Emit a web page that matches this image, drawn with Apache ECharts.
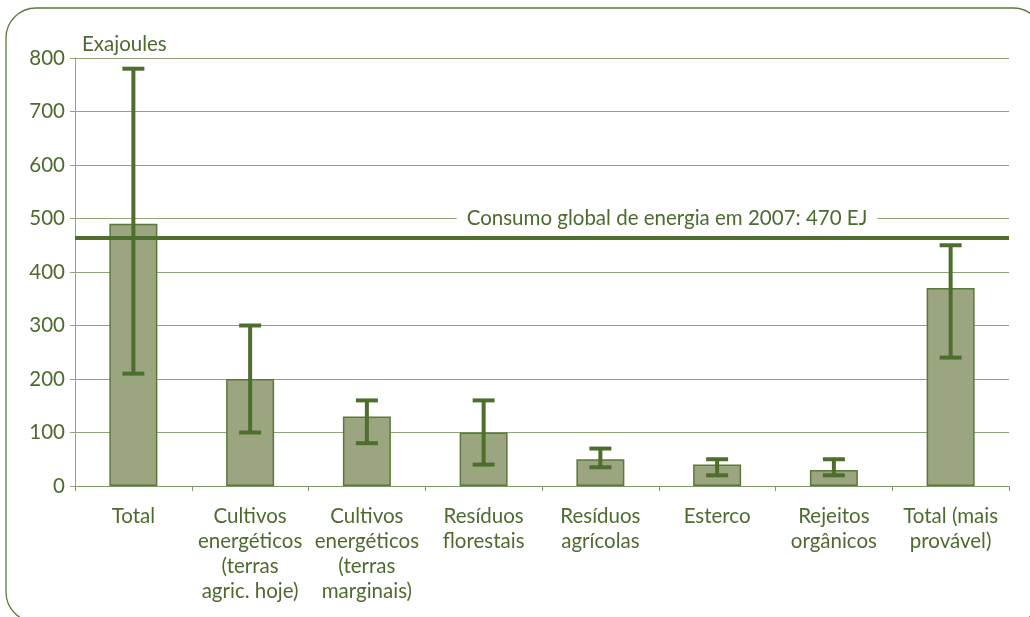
<!DOCTYPE html>
<html><head><meta charset="utf-8">
<script src="https://cdn.jsdelivr.net/npm/echarts@6/dist/echarts.min.js"></script>
<style>html,body{margin:0;padding:0;background:#fff}#c{width:1030px;height:617px}</style>
</head><body><div id="c"></div>
<script>
const categories = ['Total','Cultivos\nenergéticos\n(terras\nagric. hoje)','Cultivos\nenergéticos\n(terras\nmarginais)','Resíduos\nflorestais','Resíduos\nagrícolas','Esterco','Rejeitos\norgânicos','Total (mais\nprovável)'];
const values = [490, 200, 130, 100, 50, 40, 30, 370];
const errLow = [210, 100, 80, 40, 35, 20, 20, 240];
const errHigh = [780, 300, 160, 160, 70, 50, 50, 450];
const consumption = 464;
const consumptionLabelLevel = 500;
const consumptionLabel = 'Consumo global de energia em 2007: 470 EJ';
const yTicks = {min: 0, max: 800, interval: 100};
const yName = 'Exajoules';

const TXT = '#4d6b2e', FONT = 'Lato', FS = 20.5;
const chart = echarts.init(document.getElementById('c'));
const errData = categories.map((c, i) => [i, errLow[i], errHigh[i]]);
chart.setOption({
  animation: false,
  textStyle: {fontFamily: FONT},
  grid: {left: 75, right: 21, top: 58, bottom: 131},
  xAxis: {
    type: 'category', data: categories,
    axisLine: {lineStyle: {color: '#7f9866', width: 1}},
    axisTick: {show: true, length: 5, lineStyle: {color: '#7f9866'}},
    axisLabel: {color: TXT, fontSize: FS, lineHeight: 25, margin: 18, interval: 0, fontFamily: FONT}
  },
  yAxis: {
    type: 'value', min: yTicks.min, max: yTicks.max, interval: yTicks.interval,
    name: yName, nameLocation: 'end', nameGap: 3,
    nameTextStyle: {color: TXT, fontSize: FS, align: 'left', padding: [0, 0, 0, 7], fontFamily: FONT},
    axisLine: {show: true, lineStyle: {color: '#8fa47a', width: 1}},
    axisTick: {show: true, length: 5, lineStyle: {color: '#8fa47a'}},
    axisLabel: {color: TXT, fontSize: FS, margin: 10, fontFamily: FONT},
    splitLine: {lineStyle: {color: '#8fa47a', width: 1}}
  },
  series: [
    {
      type: 'bar', data: values, barWidth: 48, z: 2,
      itemStyle: {color: '#9ba680', borderColor: '#5a783b', borderWidth: 1.5},
      markLine: {
        silent: true, symbol: 'none', z: 5,
        lineStyle: {color: '#4e6e2e', width: 4, type: 'solid'},
        label: {show: false},
        data: [{yAxis: consumption}]
      }
    },
    {
      type: 'custom', z: 4, data: errData,
      renderItem: function (params, api) {
        const x = api.value(0);
        const lo = api.coord([x, api.value(1)]);
        const hi = api.coord([x, api.value(2)]);
        const hw = 11;
        const st = {stroke: '#4e6e2e', lineWidth: 4};
        return {type: 'group', children: [
          {type: 'line', shape: {x1: lo[0], y1: lo[1], x2: hi[0], y2: hi[1]}, style: st},
          {type: 'line', shape: {x1: lo[0]-hw, y1: lo[1], x2: lo[0]+hw, y2: lo[1]}, style: st},
          {type: 'line', shape: {x1: hi[0]-hw, y1: hi[1], x2: hi[0]+hw, y2: hi[1]}, style: st}
        ]};
      }
    }
  ]
});
const ly = chart.convertToPixel({yAxisIndex: 0}, consumptionLabelLevel);
chart.setOption({
  graphic: [
    {type: 'rect', silent: true, z: -1, shape: {x: 6, y: 8, width: 1037, height: 614, r: 30},
     style: {fill: 'none', stroke: '#5c7a3d', lineWidth: 1.3}},
    {type: 'text', x: 667, y: ly, z: 10,
     style: {text: consumptionLabel, fill: TXT, font: FS + 'px ' + FONT, align: 'center', verticalAlign: 'middle',
       backgroundColor: '#fff', padding: [2, 10, 2, 10]}}
  ]
});
</script></body></html>
